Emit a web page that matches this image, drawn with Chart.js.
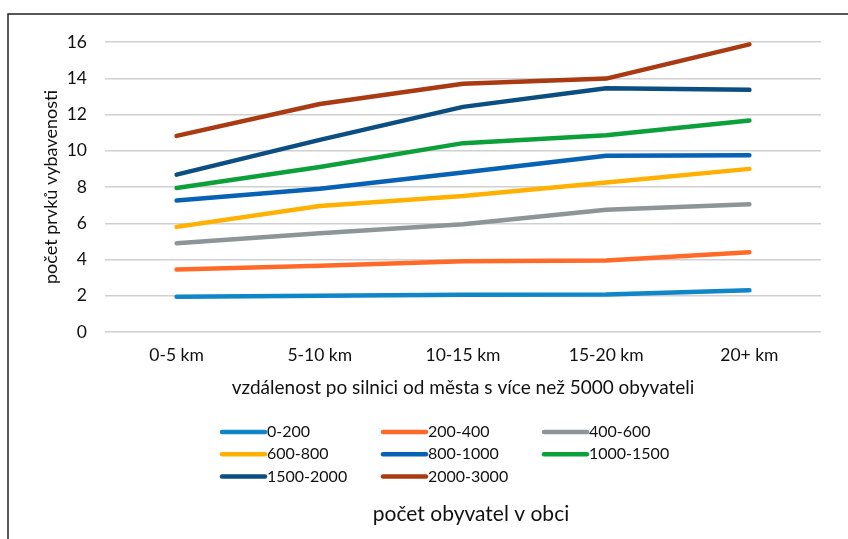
<!DOCTYPE html>
<html>
<head>
<meta charset="utf-8">
<script src="https://cdn.jsdelivr.net/npm/chart.js@4.4.1/dist/chart.umd.min.js"></script>
<style>
  html, body { margin: 0; padding: 0; background: #fff; }
  #wrap { position: relative; width: 848px; height: 539px; }
</style>
</head>
<body>
<div id="wrap"><canvas id="chart" width="848" height="539"></canvas></div>
<script>
/* ---------- Data ---------- */
const distances = ['0-5 km', '5-10 km', '10-15 km', '15-20 km', '20+ km'];

const pop0_200     = [1.95, 2.0, 2.05, 2.07, 2.3];
const pop200_400   = [3.45, 3.65, 3.9, 3.95, 4.4];
const pop400_600   = [4.9, 5.45, 5.95, 6.75, 7.05];
const pop600_800   = [5.8, 6.95, 7.5, 8.25, 9.0];
const pop800_1000  = [7.25, 7.9, 8.8, 9.73, 9.75];
const pop1000_1500 = [7.95, 9.1, 10.42, 10.85, 11.67];
const pop1500_2000 = [8.68, 10.6, 12.42, 13.45, 13.36];
const pop2000_3000 = [10.82, 12.58, 13.7, 13.98, 15.87];

const seriesLabels = ['0-200', '200-400', '400-600', '600-800', '800-1000', '1000-1500', '1500-2000', '2000-3000'];
const seriesValues = [pop0_200, pop200_400, pop400_600, pop600_800, pop800_1000, pop1000_1500, pop1500_2000, pop2000_3000];
const seriesColors = ['#0E86C7', '#FF6A28', '#8E9596', '#FFB000', '#0562B5', '#0CA03A', '#0B4E82', '#A93A12'];

const yTitle = 'počet prvků vybavenosti';
const xTitle = 'vzdálenost po silnici od města s více než 5000 obyvateli';
const legendTitle = 'počet obyvatel v obci';

const FONT = "Lato, 'Open Sans', sans-serif";

/* ---------- Frame + grid legend ---------- */
const framePlugin = {
    id: 'frame',
    beforeDraw(chart) {
        const ctx = chart.ctx;
        ctx.save();
        ctx.strokeStyle = '#222';
        ctx.lineWidth = 1.5;
        ctx.beginPath();
        ctx.moveTo(8, chart.height);
        ctx.lineTo(8, 14);
        ctx.lineTo(chart.width, 14);
        ctx.stroke();
        ctx.restore();
    }
};

const gridLegend = {
    id: 'gridLegend',
    afterDraw(chart) {
        const ctx = chart.ctx;
        ctx.save();
        ctx.font = '16px ' + FONT;
        ctx.textBaseline = 'middle';
        ctx.textAlign = 'left';
        chart.data.datasets.forEach((ds, i) => {
            const col = i % 3, row = Math.floor(i / 3);
            const x = 222 + col * 161;
            const y = 432 + row * 22.3;
            ctx.strokeStyle = ds.borderColor;
            ctx.lineWidth = 4.5;
            ctx.lineCap = 'round';
            ctx.beginPath();
            ctx.moveTo(x, y);
            ctx.lineTo(x + 43, y);
            ctx.stroke();
            ctx.fillStyle = '#111';
            ctx.fillText(ds.label, x + 45, y);
        });
        ctx.font = '21px ' + FONT;
        ctx.textAlign = 'center';
        ctx.fillText(legendTitle, 471, 514);
        ctx.restore();
    }
};

/* ---------- Chart ---------- */
new Chart(document.getElementById('chart'), {
    type: 'line',
    data: {
        labels: distances,
        datasets: seriesLabels.map((lbl, i) => ({
            label: lbl,
            data: seriesValues[i],
            borderColor: seriesColors[i],
            backgroundColor: seriesColors[i],
            borderWidth: 4.5,
            borderCapStyle: 'round',
            borderJoinStyle: 'round',
            pointRadius: 0,
            tension: 0
        }))
    },
    options: {
        responsive: false,
        animation: false,
        layout: { padding: { top: 42, right: 27, bottom: 140, left: 0 } },
        plugins: { legend: { display: false }, tooltip: { enabled: false } },
        scales: {
            x: {
                offset: true,
                grid: { display: false, drawTicks: false },
                border: { display: false },
                ticks: { color: '#111', font: { family: FONT, size: 17.5 }, padding: 13 },
                title: { display: true, text: xTitle, color: '#111', font: { family: FONT, size: 19 }, padding: 0 },
                afterFit: s => { s.height = 67; }
            },
            y: {
                min: 0, max: 16,
                grid: { color: '#d0d0d0', lineWidth: 1.5, drawTicks: false },
                border: { display: false },
                ticks: { stepSize: 2, color: '#111', font: { family: FONT, size: 17.5 }, padding: 18 },
                title: { display: true, text: yTitle, color: '#111', font: { family: FONT, size: 18 }, padding: { top: 40, bottom: 0 } },
                afterFit: s => { s.width = 105; }
            }
        }
    },
    plugins: [framePlugin, gridLegend]
});
</script>
</body>
</html>
